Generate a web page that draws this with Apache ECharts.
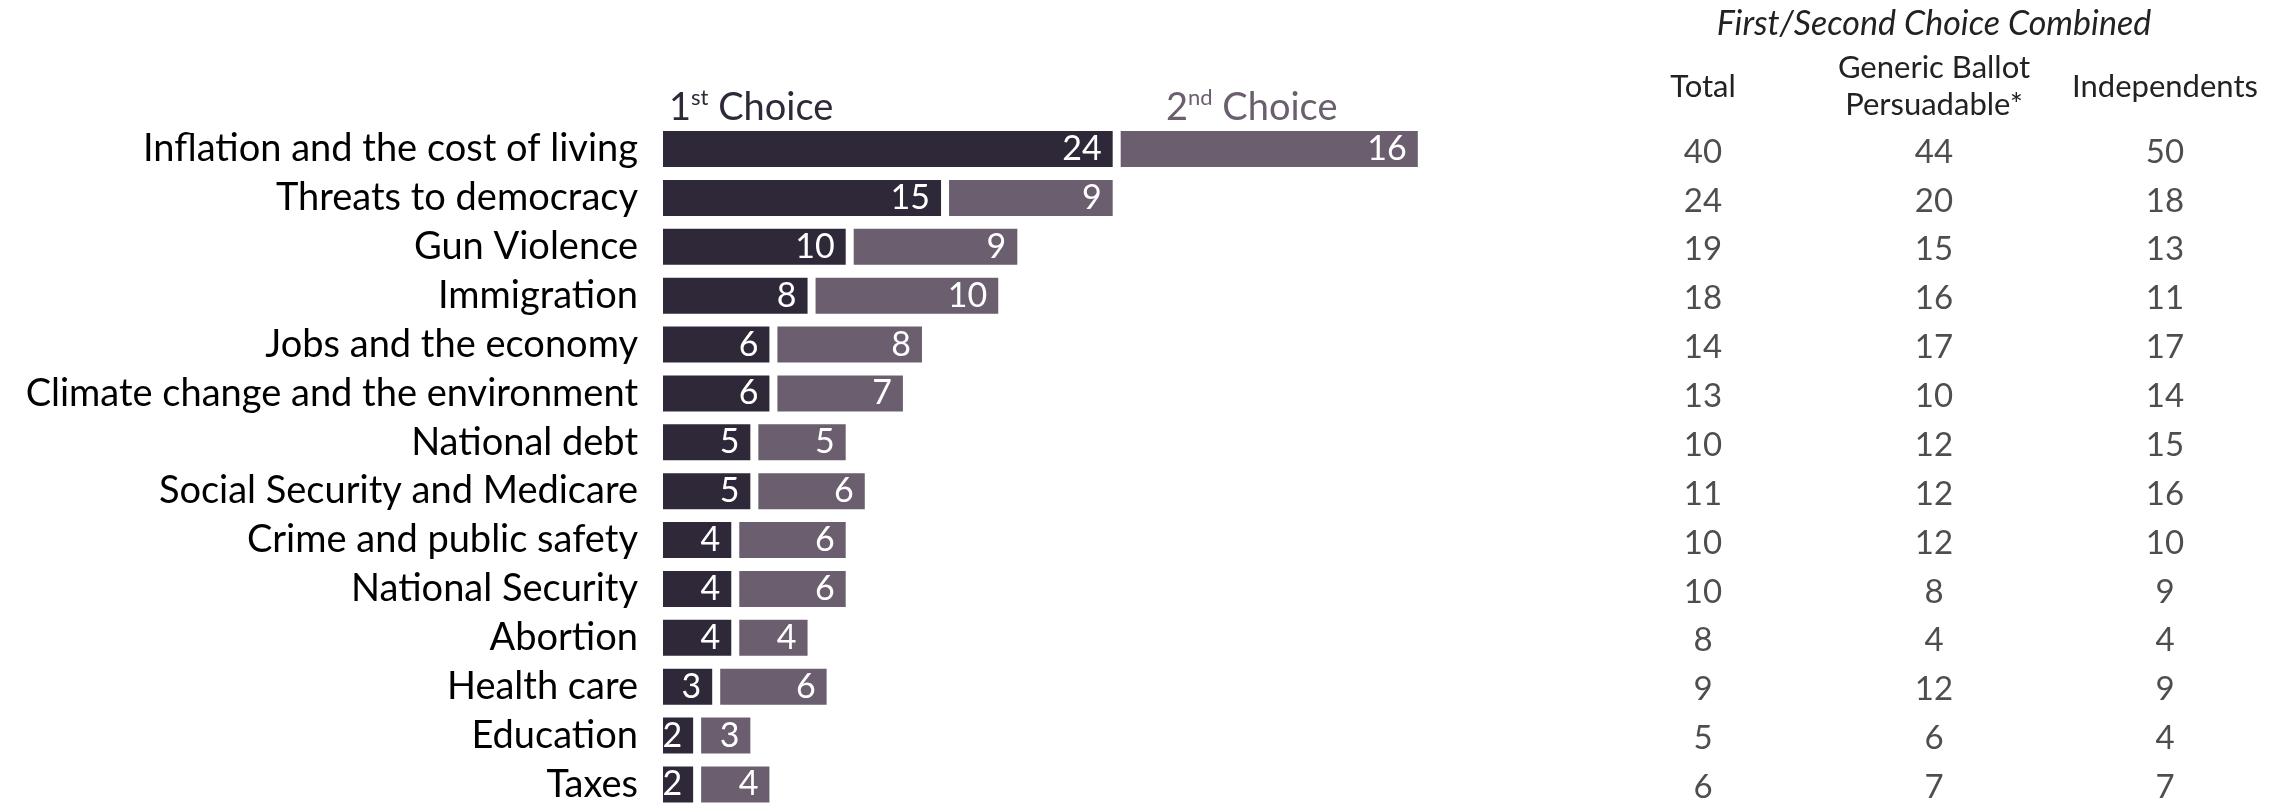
<!DOCTYPE html>
<html>
<head>
<meta charset="utf-8">
<script src="https://cdn.jsdelivr.net/npm/echarts@6/dist/echarts.min.js"></script>
<style>
  html, body { margin: 0; padding: 0; background: #fff; }
  #chart { width: 2293px; height: 803px; }
</style>
</head>
<body>
<div id="chart"></div>
<script>
const categories = [
  'Inflation and the cost of living',
  'Threats to democracy',
  'Gun Violence',
  'Immigration',
  'Jobs and the economy',
  'Climate change and the environment',
  'National debt',
  'Social Security and Medicare',
  'Crime and public safety',
  'National Security',
  'Abortion',
  'Health care',
  'Education',
  'Taxes'
]
const seriesNames = ['1st Choice', '2nd Choice']
const firstChoice = [24, 15, 10, 8, 6, 6, 5, 5, 4, 4, 4, 3, 2, 2]
const secondChoice = [16, 9, 9, 10, 8, 7, 5, 6, 6, 6, 4, 6, 3, 4]

const tableTitle = 'First/Second Choice Combined'
const tableColumns = ['Total', 'Generic Ballot\nPersuadable*', 'Independents']
const total = [40, 24, 19, 18, 14, 13, 10, 11, 10, 10, 8, 9, 5, 6]
const persuadable = [44, 20, 15, 16, 17, 10, 12, 12, 12, 8, 4, 12, 6, 7]
const independents = [50, 18, 13, 11, 17, 14, 15, 16, 10, 9, 4, 9, 4, 7]

const FONT = 'Lato'
const DARK = '#2f2838'
const LIGHT = '#6b5e6e'

// table cells: [column, category, value]
const tableData = []
;[total, persuadable, independents].forEach((col, c) => {
  col.forEach((v, r) => tableData.push([tableColumns[c], categories[r], v]))
})

function legendLabel (name) {
  const m = name.match(/^(\d+)(\w\w) (.*)$/)
  return `{n|${m[1]}}{s|${m[2]}}{n| ${m[3]}}`
}

function legendRich (color) {
  return {
    n: { fontFamily: FONT, fontSize: 38, color: color, lineHeight: 42, verticalAlign: 'middle' },
    s: { fontFamily: FONT, fontSize: 22, color: color, lineHeight: 24, verticalAlign: 'top' }
  }
}

const GRID_TOP = 124.6
const GRID_H = 684.3

const chart = echarts.init(document.getElementById('chart'), null, { renderer: 'canvas' })
chart.setOption({
  animation: false,
  backgroundColor: '#fff',
  legend: [
    {
      data: [seriesNames[0]], left: 664, top: 87, padding: 0, icon: 'none', itemWidth: 0, itemHeight: 0,
      selectedMode: false, formatter: legendLabel,
      textStyle: { rich: legendRich(DARK) }
    },
    {
      data: [seriesNames[1]], left: 1161, top: 87, padding: 0, icon: 'none', itemWidth: 0, itemHeight: 0,
      selectedMode: false, formatter: legendLabel,
      textStyle: { rich: legendRich(LIGHT) }
    }
  ],
  grid: [
    { left: 659, top: GRID_TOP, width: 762.8, height: GRID_H, outerBoundsMode: 'none' },
    { left: 1587.5, top: GRID_TOP, width: 693, height: GRID_H, outerBoundsMode: 'none' }
  ],
  xAxis: [
    { gridIndex: 0, type: 'value', min: 0, max: 40, show: false },
    {
      gridIndex: 1,
      type: 'category',
      data: tableColumns,
      position: 'top',
      axisLine: { show: false },
      axisTick: { show: false },
      splitLine: { show: false },
      axisLabel: {
        fontFamily: FONT, fontSize: 31, color: '#222', lineHeight: 37,
        margin: 38, verticalAlign: 'middle', interval: 0
      },
      name: tableTitle,
      nameLocation: 'middle',
      nameGap: 101,
      nameTextStyle: { fontFamily: FONT, fontStyle: 'italic', fontSize: 34, color: '#222', verticalAlign: 'middle' }
    }
  ],
  yAxis: [
    {
      gridIndex: 0,
      type: 'category',
      data: categories,
      inverse: true,
      axisLine: { show: false },
      axisTick: { show: false },
      axisLabel: { fontFamily: FONT, fontSize: 38, color: '#000', margin: 21, interval: 0 }
    },
    {
      gridIndex: 1,
      type: 'category',
      data: categories,
      inverse: true,
      show: false
    }
  ],
  series: [
    {
      name: seriesNames[0],
      type: 'bar',
      stack: 'choice',
      data: firstChoice,
      barWidth: 44,
      itemStyle: { color: DARK, borderColor: '#fff', borderWidth: 4 },
      label: {
        show: true, position: 'insideRight', distance: 15,
        fontFamily: FONT, fontSize: 34, color: '#fff'
      }
    },
    {
      name: seriesNames[1],
      type: 'bar',
      stack: 'choice',
      data: secondChoice,
      barWidth: 44,
      itemStyle: { color: LIGHT, borderColor: '#fff', borderWidth: 4 },
      label: {
        show: true, position: 'insideRight', distance: 15,
        fontFamily: FONT, fontSize: 34, color: '#fff'
      }
    },
    {
      type: 'scatter',
      xAxisIndex: 1,
      yAxisIndex: 1,
      data: tableData,
      encode: { x: 0, y: 1 },
      symbolSize: 1,
      itemStyle: { color: 'transparent' },
      label: {
        show: true, position: 'inside', offset: [0, 3],
        formatter: p => p.value[2],
        fontFamily: FONT, fontSize: 33, color: '#222'
      },
      silent: true
    }
  ]
})

window.addEventListener('resize', () => chart.resize())
</script>
</body>
</html>
